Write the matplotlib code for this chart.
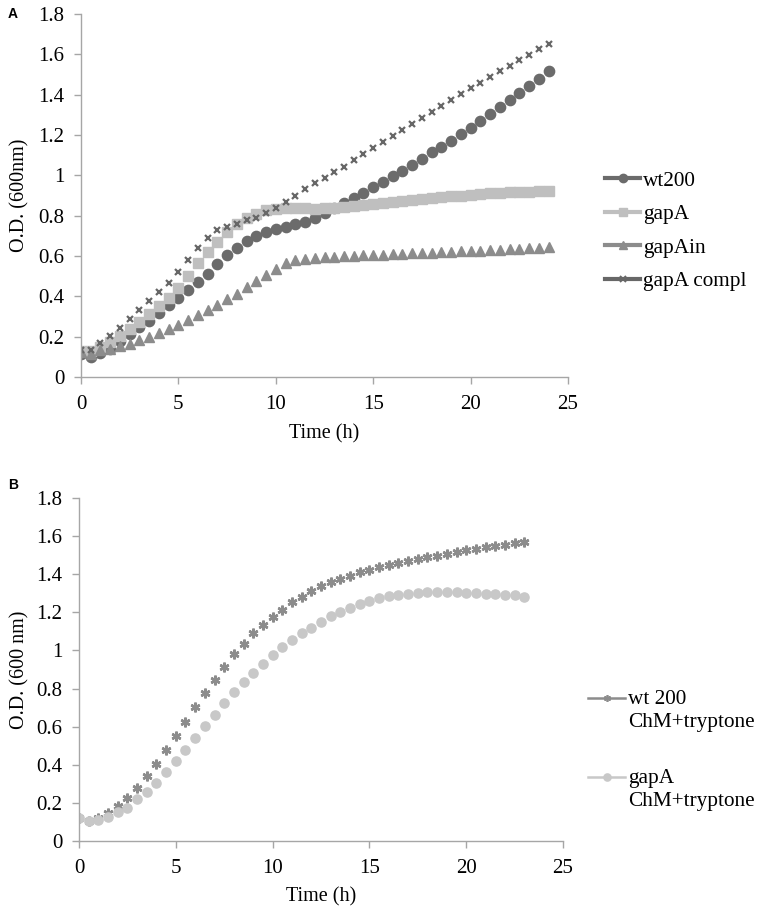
import numpy as np
import matplotlib
matplotlib.use("Agg")
import matplotlib.pyplot as plt
from matplotlib.lines import Line2D
from matplotlib.ticker import FuncFormatter, MultipleLocator

# datos panel A (0 - 24 h, cada 0.5 h)
time_a = np.arange(0, 24.5, 0.5)
wt200 = [0.116, 0.100, 0.120, 0.140, 0.180, 0.215, 0.248, 0.280, 0.317, 0.355,
         0.393, 0.433, 0.470, 0.512, 0.559, 0.603, 0.640, 0.674, 0.700, 0.720,
         0.732, 0.744, 0.757, 0.769, 0.790, 0.815, 0.838, 0.863, 0.889, 0.914,
         0.940, 0.968, 0.997, 1.023, 1.053, 1.081, 1.114, 1.142, 1.172, 1.205,
         1.236, 1.269, 1.304, 1.340, 1.373, 1.406, 1.443, 1.478, 1.517]
gapA = [0.130, 0.130, 0.150, 0.175, 0.205, 0.240, 0.275, 0.310, 0.350, 0.390,
        0.440, 0.500, 0.565, 0.620, 0.670, 0.720, 0.760, 0.790, 0.810, 0.826,
        0.835, 0.840, 0.840, 0.838, 0.835, 0.836, 0.838, 0.842, 0.846, 0.851,
        0.857, 0.862, 0.868, 0.873, 0.878, 0.883, 0.888, 0.892, 0.896, 0.900,
        0.904, 0.907, 0.910, 0.913, 0.915, 0.917, 0.919, 0.921, 0.923]
gapAin = [0.124, 0.116, 0.132, 0.140, 0.152, 0.165, 0.182, 0.198, 0.218, 0.236,
          0.256, 0.281, 0.306, 0.330, 0.359, 0.388, 0.413, 0.446, 0.474, 0.504,
          0.537, 0.565, 0.579, 0.587, 0.592, 0.595, 0.597, 0.599, 0.601, 0.603,
          0.605, 0.607, 0.609, 0.611, 0.613, 0.615, 0.617, 0.619, 0.621, 0.623,
          0.625, 0.627, 0.629, 0.631, 0.634, 0.636, 0.639, 0.641, 0.644]
gapA_compl = [0.135, 0.135, 0.170, 0.205, 0.243, 0.290, 0.330, 0.377, 0.420, 0.468,
              0.520, 0.578, 0.640, 0.690, 0.730, 0.744, 0.757, 0.777, 0.790, 0.815,
              0.840, 0.868, 0.897, 0.930, 0.960, 0.985, 1.015, 1.043, 1.076, 1.106,
              1.137, 1.164, 1.195, 1.225, 1.253, 1.282, 1.312, 1.343, 1.373, 1.402,
              1.431, 1.459, 1.489, 1.517, 1.543, 1.572, 1.596, 1.624, 1.651]

# datos panel B (0 - 23 h)
time_b = np.arange(0, 23.5, 0.5)
wt200_tryp = [0.120, 0.105, 0.122, 0.148, 0.185, 0.227, 0.280, 0.340, 0.403, 0.480,
              0.552, 0.627, 0.704, 0.777, 0.844, 0.914, 0.980, 1.035, 1.090, 1.135,
              1.178, 1.213, 1.254, 1.283, 1.310, 1.336, 1.357, 1.376, 1.392, 1.411,
              1.423, 1.437, 1.450, 1.458, 1.467, 1.481, 1.490, 1.497, 1.506, 1.516,
              1.525, 1.532, 1.541, 1.550, 1.555, 1.563, 1.569]
gapA_tryp = [0.119, 0.105, 0.110, 0.128, 0.150, 0.175, 0.218, 0.259, 0.302, 0.363,
             0.421, 0.480, 0.542, 0.603, 0.662, 0.725, 0.782, 0.837, 0.884, 0.927,
             0.975, 1.018, 1.055, 1.090, 1.118, 1.150, 1.182, 1.204, 1.225, 1.245,
             1.260, 1.274, 1.287, 1.292, 1.295, 1.304, 1.306, 1.306, 1.309, 1.306,
             1.304, 1.301, 1.297, 1.295, 1.292, 1.292, 1.283]

SERIF = "Liberation Serif"
FS = 15
FS_LEG = 15.3
AXIS_GREY = "#a6a6a6"
W, H = 757, 910

plt.rcParams["font.family"] = SERIF


def style_axes(ax):
    ax.set_xlim(0, 25)
    ax.set_ylim(0, 1.8)
    ax.xaxis.set_major_locator(MultipleLocator(5))
    ax.yaxis.set_major_locator(MultipleLocator(0.2))
    ax.yaxis.set_major_formatter(FuncFormatter(lambda v, p: f"{v:g}"))
    for s in ["top", "right"]:
        ax.spines[s].set_visible(False)
    for s in ["left", "bottom"]:
        ax.spines[s].set_color(AXIS_GREY)
        ax.spines[s].set_linewidth(1.0)
    ax.tick_params(axis="both", direction="out", length=5, width=1.0,
                   color=AXIS_GREY, labelsize=FS)
    ax.tick_params(axis="x", pad=8)
    ax.tick_params(axis="y", pad=7)
    ax.set_xlabel("Time (h)", fontsize=14.5)


fig = plt.figure(figsize=(W / 100, H / 100), dpi=100)

# ---- Panel A ----
axA = fig.add_axes([81 / W, 1 - 377 / H, 487 / W, 363 / H])
style_axes(axA)
axA.plot(time_a, wt200, ls="none", marker="o", ms=7.4, color="#6b6b6b", mec="#6b6b6b")
axA.plot(time_a, gapA, ls="none", marker="s", ms=6.6, color="#bfbfbf", mec="#bfbfbf")
axA.plot(time_a, gapAin, ls="none", marker="^", ms=7.5, color="#8c8c8c", mec="#8c8c8c")
axA.plot(time_a, gapA_compl, ls="none", marker="x", ms=4.5, mew=1.6, color="#676767")
axA.set_ylabel("O.D. (600nm)", fontsize=14.5)
axA.yaxis.set_label_coords(-0.105, 0.5)
axA.xaxis.set_label_coords(0.5, -0.13)

handles_a = [
    Line2D([], [], color="#6b6b6b", lw=3, marker="o", ms=6),
    Line2D([], [], color="#bfbfbf", lw=3, marker="s", ms=5.5),
    Line2D([], [], color="#8c8c8c", lw=3, marker="^", ms=6),
    Line2D([], [], color="#676767", lw=3, marker="x", ms=4, mew=1.4),
]
axA.legend(handles_a, ["wt200", "gapA", "gapAin", "gapA compl"],
           loc="upper left", bbox_to_anchor=(605 / W, 1 - 171 / H),
           bbox_transform=fig.transFigure, frameon=False, fontsize=FS_LEG,
           borderpad=0, borderaxespad=0, handlelength=1.65,
           handletextpad=0.15, labelspacing=0.64)

# ---- Panel B ----
axB = fig.add_axes([79 / W, 1 - 841 / H, 484 / W, 343 / H])
style_axes(axB)
axB.plot(time_b, wt200_tryp, ls="none", marker=(6, 2, 0), ms=7, mew=1.8,
         color="#8c8c8c")
axB.plot(time_b, gapA_tryp, ls="none", marker="o", ms=6.6, color="#c8c8c8",
         mec="#c8c8c8")
axB.set_ylabel("O.D. (600 nm)", fontsize=14.5)
axB.yaxis.set_label_coords(-0.102, 0.5)
axB.xaxis.set_label_coords(0.5, -0.135)

# leyenda B a mano (texto de dos lineas alineado con la primera)
legend_b = [
    ("wt 200\nChM+tryptone", "#8c8c8c", (6, 2, 0), 698),
    ("gapA\nChM+tryptone", "#c8c8c8", "o", 777),
]
for label, col, mk, ypix in legend_b:
    y = 1 - ypix / H
    fig.add_artist(Line2D([588 / W, 625 / W], [y, y], transform=fig.transFigure,
                          color=col, lw=1.8))
    fig.add_artist(Line2D([606.5 / W], [y], transform=fig.transFigure,
                          color=col, marker=mk, ms=5, mew=1.2, ls="none"))
    fig.text(628 / W, y + 8 / H, label, fontsize=FS_LEG, va="top", ha="left",
             linespacing=1.3)

# letras de panel
fig.text(8 / W, 1 - 14 / H, "A", fontsize=10, fontweight="bold",
         family="Liberation Sans", va="center")
fig.text(8 / W, 1 - 485 / H, "B", fontsize=10, fontweight="bold",
         family="Liberation Sans", va="center")

fig.savefig("out.png", dpi=100)
